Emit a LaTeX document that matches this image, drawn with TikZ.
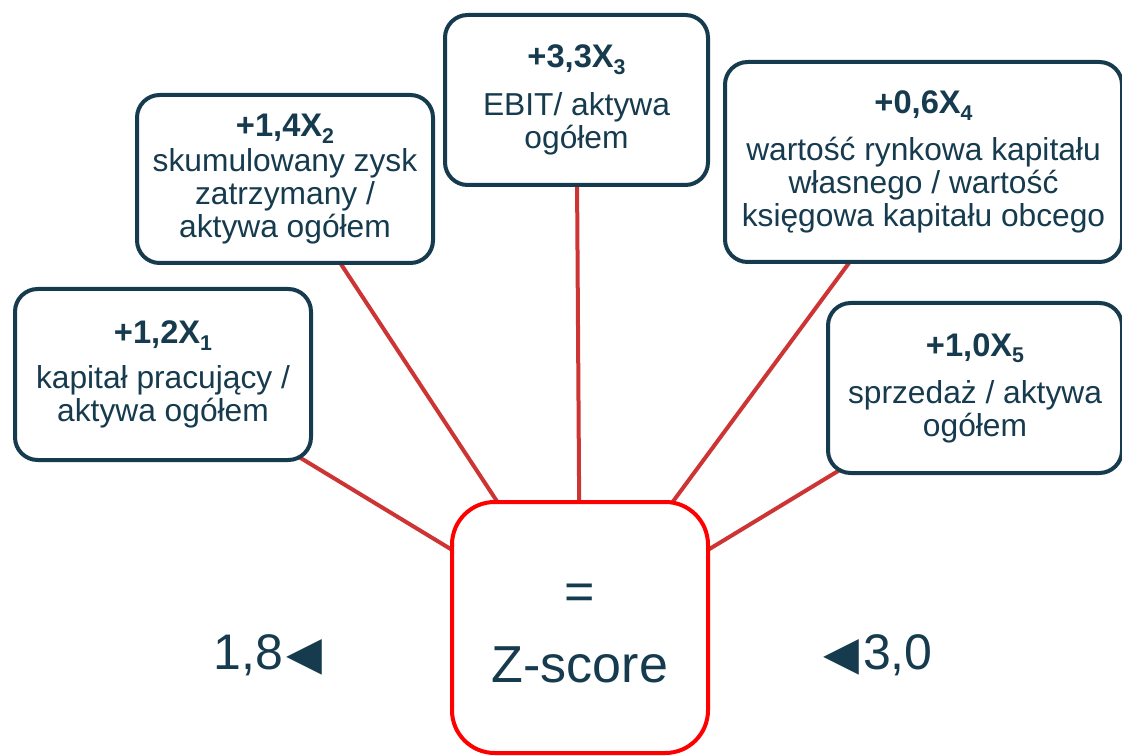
\documentclass[tikz,border=0pt]{standalone}
\usepackage{fontspec}
\setmainfont{Liberation Sans}
\newfontfamily\symfont{DejaVu Sans}
\usetikzlibrary{backgrounds}
\definecolor{navy}{RGB}{22,59,78}
\definecolor{linkred}{RGB}{205,52,52}
\definecolor{zred}{RGB}{255,0,0}
\newcommand{\xsub}[1]{\raisebox{-5pt}{\fontsize{16}{16}\selectfont #1}}
\newcommand{\xtitle}[1]{{\fontsize{24.5}{24.75}\selectfont\bfseries #1}}
\newcommand{\tri}{{\symfont\fontsize{35}{35}\selectfont ◀}}

\begin{document}
\begin{tikzpicture}[x=0.75pt,y=0.75pt,yscale=-1,xscale=1,
  factor/.style={draw=navy,line width=3pt,rounded corners=17pt,fill=white,text=navy,align=center,inner sep=0pt,font=\fontsize{23.8}{24.75}\selectfont},
  zbox/.style={draw=zred,line width=3pt,rounded corners=32pt,fill=white,text=navy,align=center,inner sep=0pt,minimum width=192pt,minimum height=188.25pt,font=\fontsize{39}{55}\selectfont},
  link/.style={draw=linkred,line width=3pt},
  bound/.style={text=navy,font=\fontsize{37.5}{40}\selectfont,inner sep=0pt}]
\useasboundingbox (0,0) rectangle (1122,756);

%Rounded Rect X1
\node[factor,minimum width=222pt,minimum height=128.25pt] (x1) at (163,374.5) {\xtitle{+1,2X\xsub{1}}\\[9pt]kapitał pracujący /\\aktywa ogółem};
%Rounded Rect X2
\node[factor,minimum width=222pt,minimum height=126pt] (x2) at (285,179) {\xtitle{+1,4X\xsub{2}}\\[1pt]skumulowany zysk\\zatrzymany /\\aktywa ogółem};
%Rounded Rect X3
\node[factor,minimum width=197.25pt,minimum height=127.5pt] (x3) at (576.5,100) {\xtitle{+3,3X\xsub{3}}\\[11pt]EBIT/ aktywa\\ogółem};
%Rounded Rect X4
\node[factor,minimum width=297.75pt,minimum height=150pt] (x4) at (923.5,162) {\xtitle{+0,6X\xsub{4}}\\[10pt]wartość rynkowa kapitału\\własnego / wartość\\księgowa kapitału obcego};
%Rounded Rect X5
\node[factor,minimum width=220.5pt,minimum height=127.5pt] (x5) at (975,388) {\xtitle{+1,0X\xsub{5}}\\[10.5pt]sprzedaż / aktywa\\ogółem};

%Rounded Rect Z-score
\node[zbox] (zs) at (580,627.5) {\rule{0pt}{28.5pt}=\\Z-score};

% Text Node
\node[bound,anchor=base] (low) at (268,669) {1,8\kern3pt\tri};
% Text Node
\node[bound,anchor=base] (high) at (878,669) {\tri\kern3pt 3,0};

%Straight Lines
\begin{pgfonlayer}{background}
\draw[link] (x1.center) -- (zs.center);
\draw[link] (x2.center) -- (zs.center);
\draw[link] (x3.center) -- (zs.center);
\draw[link] (x4.center) -- (zs.center);
\draw[link] (x5.center) -- (zs.center);
\end{pgfonlayer}

\end{tikzpicture}
\end{document}
